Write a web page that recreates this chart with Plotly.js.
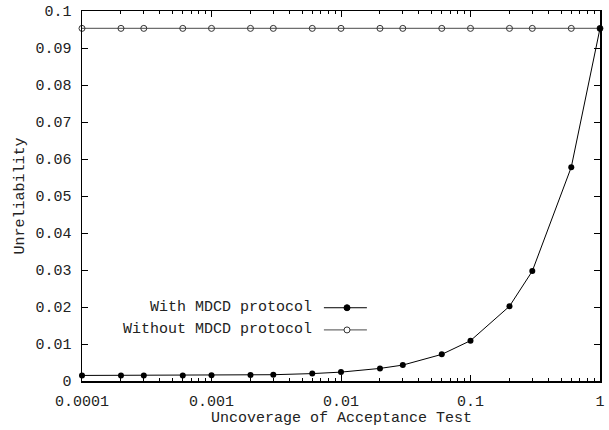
<!DOCTYPE html>
<html>
<head>
<meta charset="utf-8">
<script src="https://cdn.plot.ly/plotly-3.0.1.min.js"></script>
<style>html,body{margin:0;padding:0;background:#fff;}#chart{width:609px;height:430px;}</style>
</head>
<body>
<div id="chart"></div>
<script>
const coverage = [0.0001, 0.0002, 0.0003, 0.0006, 0.001, 0.002, 0.003, 0.006, 0.01, 0.02, 0.03, 0.06, 0.1, 0.2, 0.3, 0.6, 1];
const withMDCD = [0.0015, 0.0015, 0.0015, 0.00152, 0.00155, 0.0016, 0.0017, 0.002, 0.0024, 0.0034, 0.0043, 0.0072, 0.0109, 0.0202, 0.0297, 0.0578, 0.0953];
const withoutMDCD = [0.0953, 0.0953, 0.0953, 0.0953, 0.0953, 0.0953, 0.0953, 0.0953, 0.0953, 0.0953, 0.0953, 0.0953, 0.0953, 0.0953, 0.0953, 0.0953, 0.0953];
const xTickVals = [0.0001, 0.001, 0.01, 0.1, 1];
const xTickText = ["0.0001", "0.001", "0.01", "0.1", "1"];
const yTickVals = [0, 0.01, 0.02, 0.03, 0.04, 0.05, 0.06, 0.07, 0.08, 0.09, 0.1];
const yTickText = ["0", "0.01", "0.02", "0.03", "0.04", "0.05", "0.06", "0.07", "0.08", "0.09", "0.1"];
const seriesNames = ["With MDCD protocol", "Without MDCD protocol"];
const xTitle = "Uncoverage of Acceptance Test";
const yTitle = "Unreliability";

const FONT = "Liberation Mono, Courier New, monospace";
const GRAY = "#6e6e6e";
const FS = 15;

const traces = [
  {x: coverage, y: withoutMDCD, type: "scatter", mode: "lines+markers", name: seriesNames[1],
   line: {color: GRAY, width: 1.2},
   marker: {symbol: "circle-open", size: 6, color: "#333", line: {width: 1, color: "#333"}},
   cliponaxis: false},
  {x: coverage, y: withMDCD, type: "scatter", mode: "lines+markers", name: seriesNames[0],
   line: {color: "#000", width: 1},
   marker: {symbol: "circle", size: 6, color: "#000"},
   cliponaxis: false}
];

// legend geometry (paper coordinates)
const legRows = [0.198, 0.138];
const legTextX = 0.447, legL0 = 0.467, legL1 = 0.550, legM = 0.5116;

const annotations = seriesNames.map((n, i) => ({
  text: n, xref: "paper", yref: "paper", x: legTextX, y: legRows[i],
  xanchor: "right", yanchor: "middle", showarrow: false,
  font: {family: FONT, size: FS, color: "#222"}
}));
annotations.push({
  text: xTitle, xref: "paper", yref: "paper", x: 0.5, y: -0.1,
  xanchor: "center", yanchor: "middle", showarrow: false,
  font: {family: FONT, size: FS, color: "#222"}
});

const layout = {
  width: 609, height: 430,
  margin: {l: 82, r: 9, t: 10.5, b: 49},
  paper_bgcolor: "#fff", plot_bgcolor: "#fff",
  showlegend: false,
  font: {family: FONT, size: FS, color: "#222"},
  xaxis: {
    type: "log", range: [-4, 0],
    tickvals: xTickVals, ticktext: xTickText,
    ticks: "inside", ticklen: 6, tickcolor: "#000", tickwidth: 1,
    ticklabelstandoff: 5,
    minor: {dtick: "D1", ticks: "inside", ticklen: 3, tickcolor: "#000", tickwidth: 1, showgrid: false},
    showline: true, linecolor: "#000", linewidth: 1.5, mirror: "ticks",
    showgrid: false, zeroline: false,
    tickfont: {family: FONT, size: FS, color: "#222"}
  },
  yaxis: {
    range: [0, 0.1],
    tickvals: yTickVals, ticktext: yTickText,
    ticks: "inside", ticklen: 6, tickcolor: "#000", tickwidth: 1,
    ticklabelstandoff: 6,
    showline: true, linecolor: "#000", linewidth: 1.5, mirror: "ticks",
    showgrid: false, zeroline: false,
    tickfont: {family: FONT, size: FS, color: "#222"},
    title: {text: yTitle, font: {family: FONT, size: FS, color: "#222"}, standoff: 7}
  },
  annotations: annotations,
  shapes: [
    {type: "line", xref: "paper", yref: "paper", x0: legL0, x1: legL1, y0: legRows[0], y1: legRows[0], line: {color: "#000", width: 1}},
    {type: "line", xref: "paper", yref: "paper", x0: legL0, x1: legL1, y0: legRows[1], y1: legRows[1], line: {color: GRAY, width: 1.2}},
    {type: "circle", xref: "paper", yref: "paper", xsizemode: "pixel", ysizemode: "pixel",
     xanchor: legM, yanchor: legRows[0], x0: -3, x1: 3, y0: -3, y1: 3,
     fillcolor: "#000", line: {color: "#000", width: 1}},
    {type: "circle", xref: "paper", yref: "paper", xsizemode: "pixel", ysizemode: "pixel",
     xanchor: legM, yanchor: legRows[1], x0: -3, x1: 3, y0: -3, y1: 3,
     fillcolor: "#fff", line: {color: "#333", width: 1}}
  ]
};

Plotly.newPlot("chart", traces, layout, {displayModeBar: false, staticPlot: true});
</script>
</body>
</html>
